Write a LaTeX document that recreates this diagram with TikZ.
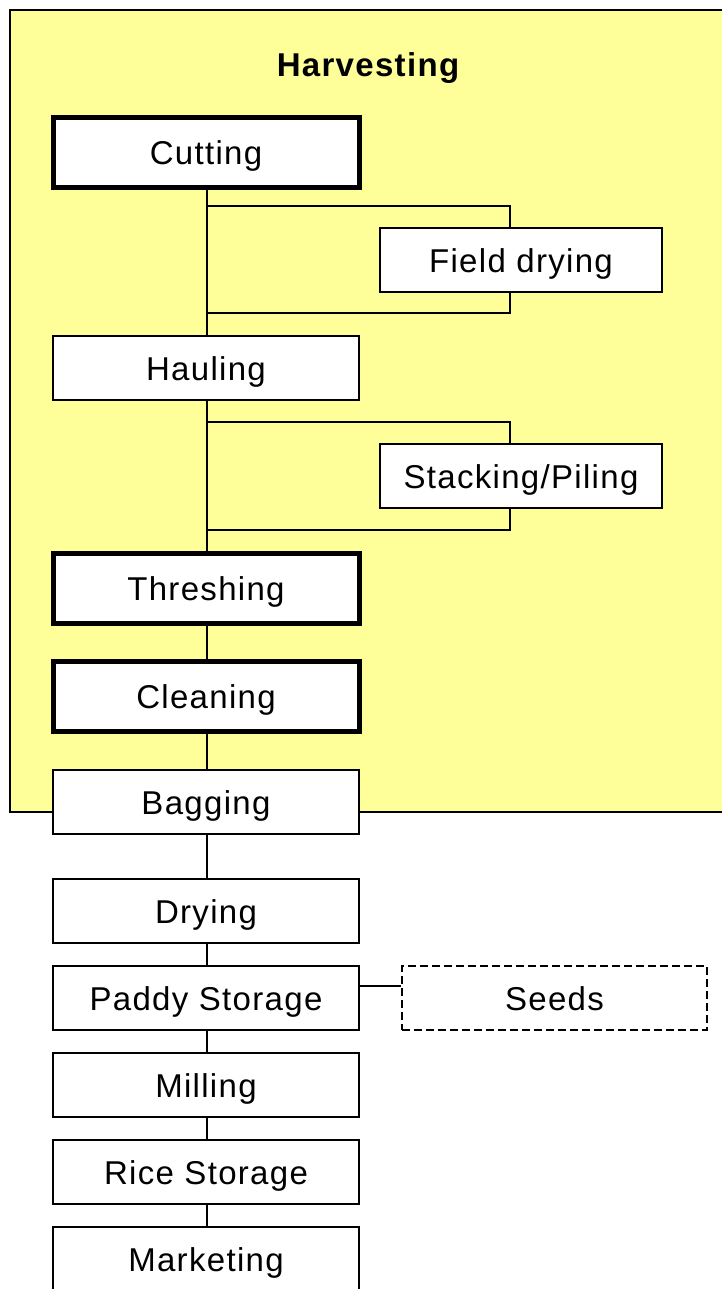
\documentclass[tikz,border=0pt]{standalone}
\usepackage{fontspec}
\setmainfont[LetterSpace=4]{Liberation Sans}
\definecolor{harvestbg}{RGB}{255,255,153}
\begin{document}
\begin{tikzpicture}[x=1pt,y=-1pt,
  every node/.style={font=\fontsize{33}{38}\selectfont, text height=24pt, text depth=0pt, inner sep=0pt},
  stepbox/.style={draw, fill=white, line width=2pt, minimum width=306pt, minimum height=64pt},
  keybox/.style={draw, fill=white, line width=5pt, minimum width=306pt, minimum height=70pt},
  sidebox/.style={draw, fill=white, line width=2pt, minimum width=282pt, minimum height=64pt},
  optbox/.style={draw, fill=white, line width=1.6pt, dash pattern=on 8pt off 4pt, minimum width=305pt, minimum height=64pt},
  link/.style={line width=2pt}]
\useasboundingbox (0,0) rectangle (722,1289);
\fill[white] (0,0) rectangle (722,1289);

% harvesting stage panel
\draw[fill=harvestbg, line width=2pt] (10,10) rectangle (730,812);
\node[font=\bfseries\fontsize{33}{38}\selectfont] (title) at (368,65) {Harvesting};

% branch corner points
\coordinate (b1) at (207,206);
\coordinate (b2) at (207,313);
\coordinate (b3) at (207,422);
\coordinate (b4) at (207,530);
\coordinate (s1) at (510,206);
\coordinate (s2) at (510,313);
\coordinate (s3) at (510,422);
\coordinate (s4) at (510,530);

% process steps
\node[keybox]  (cut)   at (206,153)  {Cutting};
\node[sidebox] (field) at (521,260)  {Field drying};
\node[stepbox] (haul)  at (206,368)  {Hauling};
\node[sidebox] (stack) at (521,476)  {Stacking/Piling};
\node[keybox]  (thr)   at (206,588)  {Threshing};
\node[keybox]  (clean) at (206,696)  {Cleaning};
\node[stepbox] (bag)   at (206,802)  {Bagging};
\node[stepbox] (dry)   at (206,911)  {Drying};
\node[stepbox] (paddy) at (206,998)  {Paddy Storage};
\node[optbox]  (seeds) at (554.5,998) {Seeds};
\node[stepbox] (mill)  at (206,1085) {Milling};
\node[stepbox] (rice)  at (206,1172) {Rice Storage};
\node[stepbox] (mkt)   at (206,1259) {Marketing};

% connectors
\draw[link] (cut.south -| b1) -- (haul.north -| b1);
\draw[link] (b1) -- (s1) -- (s1 |- field.north);
\draw[link] (s2 |- field.south) -- (s2) -- (b2);
\draw[link] (haul.south -| b3) -- (thr.north -| b3);
\draw[link] (b3) -- (s3) -- (s3 |- stack.north);
\draw[link] (s4 |- stack.south) -- (s4) -- (b4);
\draw[link] (thr.south -| b1) -- (clean.north -| b1);
\draw[link] (clean.south -| b1) -- (bag.north -| b1);
\draw[link] (bag.south -| b1) -- (dry.north -| b1);
\draw[link] (dry.south -| b1) -- (paddy.north -| b1);
\draw[link] (paddy.south -| b1) -- (mill.north -| b1);
\draw[link] (mill.south -| b1) -- (rice.north -| b1);
\draw[link] (rice.south -| b1) -- (mkt.north -| b1);
\draw[link] ([yshift=12pt]paddy.east) -- ([yshift=12pt]seeds.west);
\end{tikzpicture}
\end{document}
